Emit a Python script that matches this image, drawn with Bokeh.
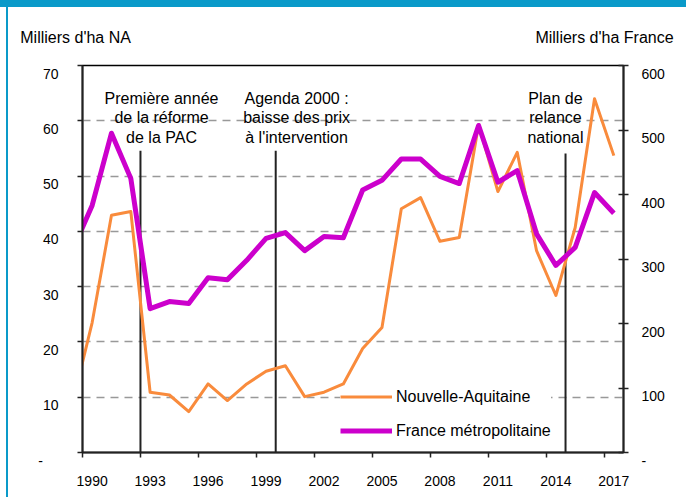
from bokeh.plotting import figure
from bokeh.models import (Range1d, LinearAxis, FixedTicker, Label, Legend,
                          LegendItem, ColumnDataSource)
from bokeh.embed import file_html
from bokeh.resources import INLINE

# ---------------- data ----------------
years = list(range(1989, 2018))
na_values = [9.1, 23.5, 42.9, 43.6, 10.9, 10.4, 7.4, 12.4, 9.4, 12.4,
             14.7, 15.7, 10.1, 10.9, 12.4, 18.8, 22.6, 44.1, 46.1, 38.2,
             38.9, 59.3, 47.2, 54.3, 36.5, 28.4, 40.7, 64.0, 53.7]
fr_values = [315, 383, 495, 425, 223, 234, 231, 271, 268, 298,
             332, 341, 313, 335, 333, 407, 422, 455, 455, 428,
             417, 507, 419, 437, 339, 290, 318, 403, 371]

x_label_years = [1990, 1993, 1996, 1999, 2002, 2005, 2008, 2011, 2014, 2017]
x_boundaries = [1989.5, 1992.5, 1995.5, 1998.5, 2001.5, 2004.5, 2007.5,
                2010.5, 2013.5, 2016.5]
left_ticks = [0, 10, 20, 30, 40, 50, 60, 70]
right_ticks = [0, 100, 200, 300, 400, 500, 600]
grid_ticks = [10, 20, 30, 40, 50, 60]

left_title = "Milliers d'ha NA"
right_title = "Milliers d'ha France"

event_x = [1992.5, 1999.5, 2014.5]
event_top = [54.6, 54.6, 54.1]
event_text_x = [1993.59, 2000.58, 2013.98]
event_lines = [["Première année", "de la réforme", "de la PAC"],
               ["Agenda 2000 :", "baisse des prix", "à l'intervention"],
               ["Plan de", "relance", "national"]]
event_line_y = [64.0, 60.6, 57.0]

FONT = "Liberation Sans"
ORANGE = "#F98B3C"
MAGENTA = "#CC00CC"
AXIS = "#222222"
BLUE = "#0A9AC9"

p = figure(width=686, height=497,
           x_range=Range1d(1989.5, 2017.5), y_range=Range1d(0, 70),
           output_backend="svg", toolbar_location=None,
           min_border_left=82, min_border_right=63,
           min_border_top=65, min_border_bottom=45,
           background_fill_color="white", border_fill_color="white",
           border_fill_alpha=0.0,
           outline_line_color="black", outline_line_width=1.5)
p.extra_y_ranges = {"fr": Range1d(0, 600)}
# pixel-like range for the top titles (frame spans x = 82..623)
p.extra_x_ranges = {"title": Range1d(82, 623)}
p.styles = {"box-shadow": f"inset 0 7px 0 0 {BLUE}, inset 6px 0 0 0 #ffffff, "
                          f"inset 8px 0 0 0 {BLUE}",
            "background-color": "#ffffff"}

# grid
p.xgrid.visible = False
p.ygrid.ticker = FixedTicker(ticks=grid_ticks)
p.ygrid.grid_line_color = "#999999"
p.ygrid.grid_line_dash = "8 6"
p.ygrid.grid_line_width = 1.5

# x axis
xa = p.xaxis[0]
xa.ticker = FixedTicker(ticks=x_label_years, minor_ticks=x_boundaries)
xa.major_label_overrides = {y: str(y) for y in x_label_years}
xa.major_tick_out = 0
xa.major_tick_in = 0
xa.minor_tick_out = 5
xa.minor_tick_in = 0
xa.minor_tick_line_color = AXIS
xa.minor_tick_line_width = 1.5
xa.axis_line_color = AXIS
xa.axis_line_width = 2
xa.major_label_standoff = 18
xa.major_label_text_font = FONT
xa.major_label_text_font_size = "14px"
xa.major_label_text_color = "black"

# left axis
ya = p.yaxis[0]
ya.ticker = FixedTicker(ticks=left_ticks)
ya.major_label_overrides = {v: "\n" + ("-\u2007\u2007" if v == 0 else str(v))
                            for v in left_ticks}
ya.major_tick_out = 5
ya.major_tick_in = 0
ya.minor_tick_out = 0
ya.minor_tick_in = 0
ya.major_tick_line_color = AXIS
ya.major_tick_line_width = 1.5
ya.axis_line_color = AXIS
ya.axis_line_width = 2
ya.major_label_standoff = 19
ya.major_label_text_font = FONT
ya.major_label_text_font_size = "14px"
ya.major_label_text_color = "black"
ya.major_label_text_line_height = 1.0

# right axis
ra = LinearAxis(y_range_name="fr", ticker=FixedTicker(ticks=right_ticks))
ra.major_label_overrides = {v: "\n" + ("-" if v == 0 else str(v))
                            for v in right_ticks}
ra.major_tick_out = 5
ra.major_tick_in = 5
ra.minor_tick_out = 0
ra.minor_tick_in = 0
ra.major_tick_line_color = AXIS
ra.major_tick_line_width = 1.5
ra.axis_line_color = AXIS
ra.axis_line_width = 2
ra.major_label_standoff = 13
ra.major_label_text_font = FONT
ra.major_label_text_font_size = "14px"
ra.major_label_text_color = "black"
ra.major_label_text_line_height = 1.0
p.add_layout(ra, "right")

# top "axis" carrying the two unit titles
title_ticks = [84, 604]
ta = LinearAxis(x_range_name="title", ticker=FixedTicker(ticks=title_ticks))
ta.major_label_overrides = {84: left_title + "\u2007\u2007", 604: right_title}
ta.axis_line_color = None
ta.major_tick_line_color = None
ta.minor_tick_line_color = None
ta.major_tick_out = 0
ta.major_tick_in = 0
ta.minor_tick_out = 0
ta.minor_tick_in = 0
ta.major_label_standoff = 20
ta.major_label_text_font = FONT
ta.major_label_text_font_size = "16px"
ta.major_label_text_color = "black"
p.add_layout(ta, "above")

# event lines
ev = ColumnDataSource(dict(x=event_x, top=event_top, bottom=[0] * len(event_x)))
p.segment(x0="x", y0="bottom", x1="x", y1="top", source=ev,
          line_color=AXIS, line_width=2)

# data lines
src = ColumnDataSource(dict(year=years, na=na_values, fr=fr_values))
r_na = p.line("year", "na", source=src, line_color=ORANGE, line_width=3,
              line_join="round")
r_fr = p.line("year", "fr", source=src, y_range_name="fr",
              line_color=MAGENTA, line_width=5, line_join="round")

# event annotations
for tx, lines in zip(event_text_x, event_lines):
    for ly, txt in zip(event_line_y, lines):
        p.add_layout(Label(x=tx, y=ly, text=txt, text_font=FONT,
                           text_font_size="16px", text_color="black",
                           text_align="center", text_baseline="middle"))

legend = Legend(items=[LegendItem(label="Nouvelle-Aquitaine", renderers=[r_na]),
                       LegendItem(label="France métropolitaine", renderers=[r_fr])],
                location=(258, 12), orientation="vertical",
                glyph_width=52, glyph_height=19, label_height=19,
                label_standoff=4, spacing=15, padding=2, margin=0,
                border_line_color=None, background_fill_color="white",
                background_fill_alpha=1.0,
                label_text_font=FONT, label_text_font_size="16px",
                label_text_color="black")
p.add_layout(legend)

open("out.html", "w").write(file_html(p, INLINE))
